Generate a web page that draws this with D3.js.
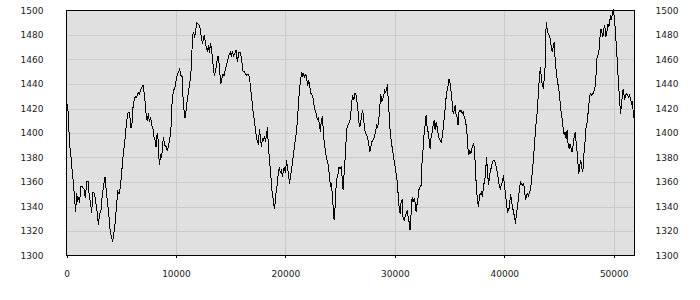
<!DOCTYPE html>
<html>
<head>
<meta charset="utf-8">
<script src="https://cdn.jsdelivr.net/npm/d3@7"></script>
<style>
  body { margin: 0; background: #fff; }
  svg { display: block; }
</style>
</head>
<body>
<svg id="chart"></svg>
<script>
// values: [x, value]
const xTicks = [0, 10000, 20000, 30000, 40000, 50000];
const yTicks = [1300, 1320, 1340, 1360, 1380, 1400, 1420, 1440, 1460, 1480, 1500];
const xDomain = [0, 51900];
const yDomain = [1300, 1500];

const readings = [
  [0,1426],[137,1418],[228,1401],[320,1388],[442,1378],[533,1367],[625,1360],[747,1345],[838,1335.5],[929,1351],
  [1021,1344],[1112,1348],[1203,1343],[1295,1356],[1447,1356],[1600,1354],[1721,1347],[1843,1360],[1965,1361],[2087,1348],
  [2209,1342],[2300,1335],[2422,1352],[2575,1350],[2696,1342],[2818,1334],[2910,1325],[3031,1334],[3153,1337],[3275,1350],
  [3428,1359],[3519,1364],[3641,1352],[3763,1342],[3885,1331],[4006,1319],[4128,1314],[4220,1312],[4342,1319],[4433,1326],
  [4555,1339],[4677,1352],[4799,1350],[4890,1354],[5012,1364],[5134,1378],[5256,1388],[5377,1398],[5469,1407],[5591,1416],
  [5713,1417],[5804,1412],[5895,1404],[5987,1408],[6078,1421],[6200,1428],[6322,1430],[6414,1429],[6535,1433],[6657,1432],
  [6779,1435],[6901,1437.5],[6992,1439],
  [7083,1433.4],[7205,1424],[7296,1413],[7388,1410],[7479,1416],[7571,1409],[7693,1413],[7784,1406],[7875,1405],[7997,1397],
  [8089,1394],[8180,1389],[8241,1397],[8333,1400],[8485,1373.6],[8607,1383],[8698,1380],[8851,1397],[8973,1390],[9095,1389],
  [9217,1385],[9339,1390],[9461,1397],[9552,1405],[9643,1424],[9765,1435],[9887,1436],[10009,1443],[10131,1448],[10253,1450],
  [10344,1452],[10436,1447],[10558,1446],[10649,1429],[10741,1418.5],[10832,1412],[10924,1418],[11046,1428],[11168,1435],[11290,1443],
  [11381,1451],[11473,1469],[11534,1480],[11625,1482],[11717,1478],[11808,1484],[11900,1490],[12022,1489],[12144,1488],[12235,1484],
  [12327,1478],[12418,1473],[12510,1477],[12601,1480],[12693,1473],[12784,1470],[12876,1466],[12967,1471.5],[13059,1465],[13150,1473],
  [13242,1469],[13333,1462],[13425,1452],[13516,1447],[13638,1452],[13760,1459],[13852,1463],[13943,1456.5],
  [14091,1440],[14182,1444],[14304,1448],[14396,1447],[14518,1452],[14640,1456.5],[14762,1460.6],[14884,1464.7],[14975,1466],[15067,1463],
  [15158,1466],[15280,1463],[15372,1464.7],[15494,1467.4],[15616,1458],[15738,1466],[15859,1466],[15981,1462],[16103,1451],[16225,1450],
  [16347,1448.4],[16469,1447],[16591,1448],[16713,1445.6],[16834,1436],[16926,1428],[17017,1420],[17139,1411.7],[17261,1403.5],[17353,1396.7],
  [17444,1392.7],[17536,1391.3],[17627,1403.5],[17718,1396.7],[17810,1388.6],[17901,1395.4],[17993,1394],[18084,1396.7],[18176,1394],[18267,1396.7],
  [18358,1405],[18450,1388.6],[18541,1379],[18633,1369.5],[18724,1358.7],[18815,1349],[18907,1345],[18998,1338],[19090,1345],[19181,1354.6],
  [19273,1358.7],[19364,1369.5],[19455,1371],[19547,1368],[19638,1369.5],[19730,1364],[19821,1369.5],[19912,1372],[20004,1367],[20095,1377.7],
  [20187,1372],[20278,1367],[20370,1358.7],[20461,1364],[20552,1369.5],[20644,1375],[20735,1383],[20827,1388.6],[20918,1395],[21010,1400.8],
  [21101,1410.3],[21193,1424],[21284,1434.8],[21376,1443],
  [21494,1449.7],[21586,1445.6],[21677,1448.4],[21769,1445.6],[21860,1448.4],[21952,1444],[22043,1438.8],[22134,1443],[22226,1437.5],[22348,1432],
  [22470,1430.7],[22561,1426.6],[22653,1419.8],[22744,1418.5],[22835,1414.4],[22927,1410.3],[23018,1413],[23110,1406.2],[23201,1400.8],[23293,1411.7],
  [23384,1413],[23475,1400.8],[23567,1390],[23658,1385.9],[23750,1379],[23841,1377.7],[23932,1372.3],[24024,1365.5],[24115,1356],[24207,1358.7],
  [24298,1347.8],[24390,1337],[24451,1328.8],[24542,1339.7],[24633,1356],[24725,1364],[24816,1366.8],[24908,1372.3],[24999,1371],[25090,1372.3],
  [25182,1364],[25273,1353.2],[25365,1366.8],[25456,1379],[25548,1394],[25639,1404.9],[25761,1407.6],[25883,1409],[25974,1415.8],[26066,1425.3],
  [26157,1430.7],[26249,1426.6],[26340,1432],[26431,1432],[26523,1426.6],[26614,1421.2],[26706,1409],[26797,1404.9],[26888,1409],[26980,1415.8],
  [27071,1418.5],[27163,1410.3],[27254,1402],[27346,1399.5],[27437,1398],[27528,1395.4],[27620,1391.3],[27711,1384.5],[27803,1388.6],[27894,1392.7],
  [27985,1394],[28077,1395.4],[28168,1398],[28260,1402],[28351,1406.2],[28442,1404.9],[28534,1410.3],[28625,1421.2],[28717,1432],[28808,1425.3],
  [28899,1428],
  [28959,1429.3],[29080,1434.8],[29172,1433.4],[29263,1436],[29324,1440],[29385,1429.3],[29477,1415.8],[29568,1402],[29660,1394],[29751,1388.6],
  [29843,1383],[29934,1377.7],[30025,1372.3],[30117,1366.8],[30208,1361.4],[30300,1350.5],[30391,1339.7],[30483,1334.2],[30574,1343.7],[30665,1345.1],
  [30757,1330.2],[30848,1328.8],[30940,1331.5],[31031,1334.2],[31122,1336.9],[31214,1331.5],[31305,1327.4],[31397,1320.6],[31488,1334.2],[31580,1347.8],
  [31671,1343.7],[31762,1346.5],[31854,1343.7],[31945,1335.6],[32037,1342.4],[32128,1347.8],[32220,1354.6],[32311,1356],[32402,1357.3],[32494,1377.7],
  [32585,1387.2],[32677,1399.5],[32768,1406.2],[32860,1414.4],[32951,1404.9],[33042,1400.8],[33134,1394],[33225,1387.2],[33317,1396.7],[33408,1400.8],
  [33500,1406.2],[33591,1410.3],[33682,1402.2],[33774,1409],[33865,1404.9],[33957,1399.5],[34048,1395.4],[34140,1394],[34231,1392.7],[34322,1396.7],
  [34414,1403.5],[34505,1411.7],[34597,1419.8],[34688,1429.3],[34780,1434.8],[34871,1438.8],[34962,1444.3],[35054,1440.2],[35145,1433.4],[35237,1425.3],
  [35328,1415.8],[35420,1418.5],[35511,1422.5],[35602,1414.4],[35694,1413],[35785,1406.2],[35877,1418.5],[35968,1417.1],[36060,1418.5],[36151,1415.8],
  [36242,1417.1],[36334,1413],
  [36454,1410.3],[36576,1402.2],[36668,1388.6],[36759,1381.8],[36851,1385.9],[36942,1383.2],[37034,1387.2],[37125,1389.9],[37217,1391.3],[37308,1381.8],
  [37399,1364.1],[37491,1350.5],[37582,1343.7],[37643,1339.7],[37735,1349.2],[37826,1350.5],[37917,1351.9],[38009,1347.8],[38100,1357.3],[38192,1360],
  [38283,1365.5],[38375,1380.4],[38466,1369.6],[38557,1357.3],[38649,1364.1],[38740,1369.6],[38832,1372.3],[38923,1376.4],[39015,1377.7],[39106,1377.7],
  [39197,1375],[39289,1370.9],[39380,1366.8],[39472,1361.4],[39563,1356],[39655,1354.6],[39746,1358.7],[39837,1360],[39929,1365.5],[40020,1356],
  [40112,1350.5],[40203,1342.4],[40295,1335.6],[40386,1336.9],[40477,1339.7],[40569,1350.5],[40660,1345.1],[40752,1339.7],[40843,1335.6],[40935,1331.5],
  [41026,1326.1],[41117,1334.2],[41209,1339.7],[41300,1347.8],[41392,1354.6],[41483,1360],[41575,1358.7],[41666,1357.3],[41757,1358.7],[41849,1354.6],
  [41940,1345.1],[42032,1349.2],[42123,1350.5],[42215,1347.8],[42306,1351.9],[42397,1353.2],[42489,1361.4],[42580,1369.6],[42672,1379.1],[42763,1391.3],
  [42855,1402.2],[42946,1411.7],[43037,1419.8],[43129,1434.8],[43220,1447],[43312,1453.8],[43403,1442.9],[43495,1438.8],[43586,1436.1],[43677,1448.4],
  [43769,1457.9],
  [43826,1490.5],[43917,1485],[44008,1481],[44100,1479.6],[44191,1476.9],[44283,1471.5],[44374,1466],[44466,1470],[44557,1474.2],[44648,1460.6],
  [44740,1451.1],[44831,1444.3],[44923,1438.9],[45014,1433.4],[45106,1425.3],[45197,1417.1],[45288,1411.7],[45380,1403.5],[45471,1398.1],[45563,1400.8],
  [45654,1395.4],[45746,1402.2],[45837,1390],[45928,1387.2],[46020,1391.3],[46111,1387.2],[46203,1384.5],[46294,1390],[46386,1396.7],[46477,1400.8],
  [46568,1392.7],[46660,1384.5],[46751,1373.6],[46812,1366.8],[46904,1373.6],[46995,1377.7],[47086,1370.9],[47178,1368.2],[47269,1381.8],[47361,1390],
  [47452,1403.5],[47543,1406.2],[47635,1414.4],[47726,1422.6],[47818,1430.7],[47909,1432.1],[48001,1430.7],[48092,1432.1],[48183,1433.4],[48275,1436.1],
  [48366,1444.3],[48458,1460.6],[48549,1463.3],[48641,1466],[48732,1476.9],[48823,1485],[48915,1482.3],[49006,1478.3],[49098,1485],[49189,1487.8],
  [49281,1478.3],[49372,1482.3],[49463,1489.1],[49555,1486.4],[49646,1491.9],[49738,1496],[49799,1491.9],[49890,1498.6],[49981,1500],[50073,1493.2],
  [50164,1482.3],[50256,1468.7],[50347,1455.2],[50438,1440.2],[50530,1428],[50621,1415.8],[50713,1422.6],[50804,1433.4],[50896,1436.1],[50987,1426.6],
  [51078,1430.7],[51170,1432.1],[51261,1430.7],[51353,1429.3],[51444,1430.7],[51535,1428],[51627,1423.9],[51718,1425.3],[51810,1413],[51900,1411]
];

const width = 700, height = 300;
const margin = { top: 10.5, right: 65.5, bottom: 44.5, left: 66.5 };

const x = d3.scaleLinear()
    .domain(xDomain)
    .range([margin.left, width - margin.right]);

const y = d3.scaleLinear()
    .domain(yDomain)
    .range([height - margin.bottom, margin.top]);

const svg = d3.select("#chart")
    .attr("width", width)
    .attr("height", height)
    .attr("font-family", "'DejaVu Sans', Verdana, sans-serif")
    .attr("font-size", 9);

// plot background
svg.append("rect")
    .attr("x", margin.left)
    .attr("y", margin.top)
    .attr("width", width - margin.right - margin.left)
    .attr("height", height - margin.bottom - margin.top)
    .attr("fill", "#e0e0e0");

// grid
svg.append("g")
    .attr("stroke", "#cbcbcb")
    .attr("shape-rendering", "crispEdges")
    .selectAll("line.h")
    .data(yTicks.slice(1, -1))
    .join("line")
    .attr("x1", margin.left)
    .attr("x2", width - margin.right)
    .attr("y1", d => Math.round(y(d)) + 0.5)
    .attr("y2", d => Math.round(y(d)) + 0.5);

svg.append("g")
    .attr("stroke", "#cbcbcb")
    .attr("shape-rendering", "crispEdges")
    .selectAll("line")
    .data(xTicks.slice(1))
    .join("line")
    .attr("x1", d => Math.round(x(d)) + 0.5)
    .attr("x2", d => Math.round(x(d)) + 0.5)
    .attr("y1", margin.top)
    .attr("y2", height - margin.bottom);

// the series
const line = d3.line()
    .x(d => x(d[0]))
    .y(d => y(d[1]));

svg.append("path")
    .datum(readings)
    .attr("fill", "none")
    .attr("stroke", "#000")
    .attr("stroke-width", 1)
    .attr("shape-rendering", "crispEdges")
    .attr("d", line);

// frame
svg.append("rect")
    .attr("x", margin.left)
    .attr("y", margin.top)
    .attr("width", width - margin.right - margin.left)
    .attr("height", height - margin.bottom - margin.top)
    .attr("fill", "none")
    .attr("stroke", "#000")
    .attr("shape-rendering", "crispEdges");

// axes
const left = svg.append("g")
    .attr("transform", `translate(${margin.left},0)`)
    .call(d3.axisLeft(y).tickValues(yTicks).tickSize(0).tickPadding(23).tickFormat(d3.format("d")));

const right = svg.append("g")
    .attr("transform", `translate(${width - margin.right},0)`)
    .call(d3.axisRight(y).tickValues(yTicks).tickSize(0).tickPadding(21).tickFormat(d3.format("d")));

const bottom = svg.append("g")
    .attr("transform", `translate(0,${height - margin.bottom})`)
    .call(d3.axisBottom(x).tickValues(xTicks).tickSize(2).tickPadding(13).tickFormat(d3.format("d")));

[left, right, bottom].forEach(g => {
    g.select(".domain").remove();
    g.attr("font-family", null).attr("font-size", null);
    g.selectAll("text").attr("fill", "#222");
    g.selectAll("line").attr("stroke", "#000").attr("shape-rendering", "crispEdges");
});
</script>
</body>
</html>
